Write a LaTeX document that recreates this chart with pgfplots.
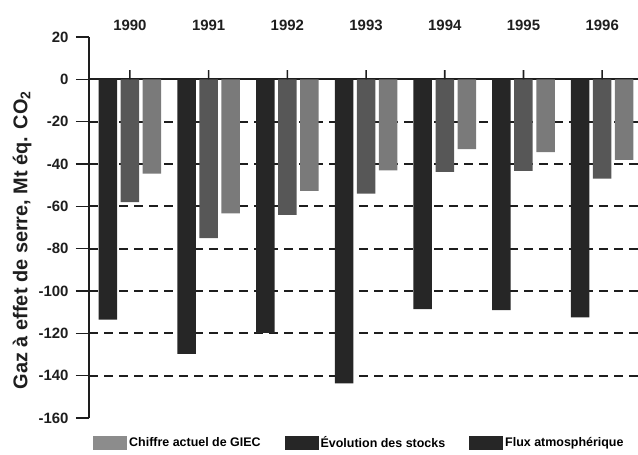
\documentclass[border=0pt]{standalone}
\usepackage{pgfplots}
\pgfplotsset{compat=1.18}
\usepackage{pgfplotstable}
\usepackage{fontspec}
\setmainfont{Liberation Sans}
\definecolor{dk}{HTML}{262626}
\definecolor{md}{HTML}{575757}
\definecolor{lt}{HTML}{7A7A7A}
\definecolor{lg}{HTML}{8C8C8C}
\definecolor{ax}{HTML}{1E1E1E}

\pgfplotstableread{
x a b c
0 -113.5 -58 -44.5
1 -129.7 -75 -63.3
2 -119.8 -64 -52.7
3 -143.7 -54 -43
4 -108.6 -43.7 -33
5 -109 -43.3 -34.4
6 -112.5 -46.9 -38
}\data

\pgfplotstableread{
x t
0 4.3
1 4.3
2 4.3
3 4.3
4 4.3
5 4.3
6 4.3
}\ticks

\begin{document}
\begin{tikzpicture}
\path[use as bounding box] (0,0) rectangle (638bp,455bp);
\begin{axis}[
  at={(89bp,37bp)}, anchor=south west,
  width=549bp, height=381bp, scale only axis,
  xmin=-0.52, xmax=6.455, ymin=-160, ymax=20,
  axis x line*=middle, axis y line*=left,
  axis line style={line width=1.8bp, color=ax, -},
  xtick={0,...,6},
  xticklabels={1990,1991,1992,1993,1994,1995,1996},
  xtick style={draw=none},
  xticklabel style={font=\fontsize{15}{15}\selectfont\bfseries, color=ax, yshift=76bp},
  ytick={-160,-140,-120,-100,-80,-60,-40,-20,0,20},
  yticklabels={-160,-140,-120,-100,-80,-60,-40,-20,0,20},
  yticklabel style={font=\fontsize{15}{15}\selectfont\bfseries, color=ax, xshift=-4bp},
  tick align=outside,
  major tick length=13bp,
  tick style={line width=1.5bp, color=ax},
  extra y ticks={-140,-120,-100,-80,-60,-40,-20},
  extra y tick labels={},
  extra y tick style={grid=major, major grid style={line width=1.7bp, color=ax, dash pattern=on 9bp off 6bp}},
  ylabel={Gaz à effet de serre, Mt éq. CO\textsubscript{2}},
  ylabel style={font=\fontsize{20}{20}\selectfont\bfseries, color=ax, at={(axis description cs:-0.122,0.467)}, anchor=center, rotate=0},
  legend columns=3,
  legend style={at={(axis description cs:0.0073,-0.0656)}, anchor=west, draw=none, fill=none,
    font=\fontsize{12.5}{13}\selectfont\bfseries, inner sep=0pt,
    /tikz/every even column/.append style={column sep=22bp}},
  legend cell align=left,
  legend image code/.code={\fill[#1] (0bp,-7bp) rectangle (34bp,7bp);},
]
\addplot[ybar, bar width=0.235, bar shift=-0.28, fill=dk, draw=none, forget plot] table[x=x,y=a]{\data};
\addplot[ybar, bar width=0.235, bar shift=0, fill=md, draw=none, forget plot] table[x=x,y=b]{\data};
\addplot[ybar, bar width=0.235, bar shift=0.28, fill=lt, draw=none, forget plot] table[x=x,y=c]{\data};
\addplot[ybar, bar width=1.6bp, bar shift=0, fill=ax, draw=none, forget plot] table[x=x,y=t]{\ticks};
\addlegendimage{fill=lg, draw=none}
\addlegendentry{Chiffre actuel de GIEC}
\addlegendimage{fill=dk, draw=none}
\addlegendentry{Évolution des stocks}
\addlegendimage{fill=dk, draw=none}
\addlegendentry{Flux atmosphérique}
\end{axis}
\end{tikzpicture}
\end{document}
